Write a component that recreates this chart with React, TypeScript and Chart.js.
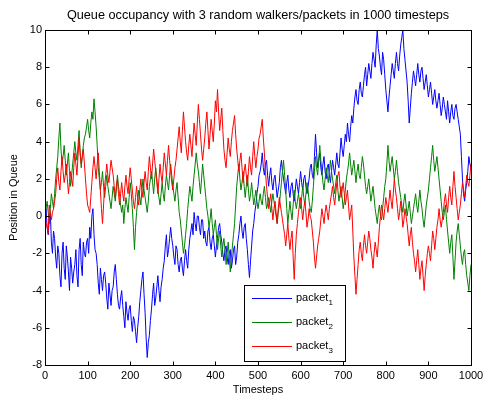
import React, { useEffect, useRef } from "react";
import { Chart, registerables } from "chart.js";
Chart.register(...registerables);

const TITLE = "Queue occupancy with 3 random walkers/packets in 1000 timesteps";
const X_LABEL = "Timesteps";
const Y_LABEL = "Position in Queue";
const X_TICKS = [0, 100, 200, 300, 400, 500, 600, 700, 800, 900, 1000];
const Y_TICKS = [-8, -6, -4, -2, 0, 2, 4, 6, 8, 10];
const SERIES_NAMES = ["packet", "packet", "packet"];
const SERIES_SUBS = ["1", "2", "3"];
const SERIES_COLORS = ["#0000ff", "#008000", "#ff0000"];
const STEP = 2.5; // timesteps between sampled points

const PACKET1 = [
  0, 0.4, -0.6, -1.0, -0.2, 0.2, -1.4, -2.0, -0.8, -1.2, -2.2, -2.8, -1.6, -2.0, -3.2, -3.8, -2.0, -1.4, -2.8, -3.4,
  -1.6, -2.2, -3.0, -4.0, -2.2, -2.8, -3.6, -3.0, -2.6, -1.8, -3.2, -3.8, -1.8, -1.2, -2.6, -3.2, -1.4, -2.0, -2.2, -1.4,
  -1.2, -2.0, -0.6, -1.2, 0.0, 0.4, -1.0, -1.8, -2.0, -2.6, -3.6, -4.2, -2.8, -3.4, -4.0, -3.2, -3.0, -3.6, -4.4, -5.0,
  -3.6, -4.2, -4.8, -4.0, -3.8, -3.0, -2.6, -3.4, -4.2, -4.8, -5.0, -4.4, -4.0, -4.8, -5.4, -6.0, -4.6, -5.2, -5.6, -5.0,
  -4.8, -5.6, -6.2, -5.4, -5.6, -6.2, -6.8, -6.0, -5.4, -4.6, -4.0, -3.4, -3.0, -4.2, -5.2, -6.6, -7.6, -6.8, -6.4, -5.6,
  -5.0, -4.2, -3.6, -4.8, -4.4, -3.8, -3.2, -4.0, -4.6, -3.8, -3.4, -2.8, -2.4, -1.6, -1.0, -2.2, -1.8, -1.2, -0.6, -1.2,
  -1.6, -2.2, -2.6, -1.6, -1.8, -2.6, -3.0, -2.4, -2.2, -2.8, -3.2, -2.4, -1.8, -2.4, -2.8, -1.8, -1.2, -0.8, -0.4, -1.0,
  0.2, -0.4, -0.8, 0.0, 0.0, -0.6, -1.0, -0.2, -0.2, -1.2, -0.8, -1.4, -1.6, -0.8, -0.6, -1.4, -1.8, -1.2, -1.0, -1.6,
  -2.2, -1.6, -1.2, -0.6, -0.4, -1.0, -1.4, -2.0, -2.4, -1.8, -1.6, -2.2, -2.6, -2.0, -1.8, -2.8, -2.4, -1.8, -1.6, -2.6,
  -2.2, -1.4, -1.0, -0.4, 0.0, -0.8, -1.2, -0.6, -0.4, -1.2, -1.8, -2.6, -3.3, -2.4, -1.6, -0.8, -0.4, 0.2, 0.6, 1.2,
  1.6, 2.2, 2.4, 2.8, 3.4, 2.6, 2.2, 2.8, 3.0, 2.2, 1.6, 2.2, 2.6, 1.8, 1.4, 2.0, 2.2, 1.6, 1.0, 1.4,
  1.8, 2.6, 3.0, 2.4, 2.0, 1.6, 1.2, 1.8, 2.2, 1.4, 1.0, 1.6, 1.8, 1.2, 0.8, 1.4, 2.0, 1.6, 1.2, 1.8,
  2.4, 1.8, 1.4, 2.0, 2.2, 1.6, 1.2, 1.6, 2.0, 2.6, 2.8, 2.2, 2.0, 3.2, 4.4, 3.4, 2.6, 3.0, 3.4, 2.6,
  2.2, 2.8, 3.2, 2.4, 2.0, 2.6, 2.8, 2.2, 1.8, 2.4, 3.0, 2.6, 2.2, 2.8, 3.4, 2.8, 2.6, 3.4, 4.2, 3.6,
  3.2, 3.8, 4.4, 4.0, 5.0, 4.4, 4.0, 4.8, 5.4, 5.0, 5.8, 6.4, 6.8, 6.2, 6.0, 6.8, 7.2, 6.6, 6.4, 7.0,
  7.6, 8.0, 7.0, 7.6, 8.2, 7.8, 7.4, 8.2, 8.8, 8.4, 8.0, 9.2, 10.0, 9.0, 8.6, 8.0, 7.6, 8.8, 8.4, 7.6,
  6.8, 6.2, 5.6, 6.4, 7.0, 7.6, 8.2, 7.8, 7.4, 8.2, 8.8, 8.2, 7.8, 8.6, 9.2, 9.6, 10.0, 9.0, 8.4, 7.8,
  7.2, 6.2, 5.0, 5.8, 6.6, 7.2, 7.8, 7.4, 7.0, 7.6, 8.2, 7.6, 7.2, 7.8, 8.0, 7.4, 6.8, 7.2, 7.6, 7.0,
  6.4, 6.8, 7.2, 6.6, 6.0, 6.4, 6.8, 6.2, 5.8, 6.2, 6.6, 6.0, 5.4, 5.8, 6.4, 6.0, 5.6, 5.2, 6.2, 5.6,
  5.0, 5.6, 6.0, 5.4, 5.2, 5.8, 6.0, 5.6, 5.2, 4.8, 4.4, 3.2, 2.0, 1.2, 0.8, 1.4, 1.8, 2.4, 3.2, 2.8,
  2.6,
];

const PACKET2 = [
  0.0, 0.4, 0.8, 0.2, -0.4, 0.4, 1.2, 0.8, 0.4, 1.2, 2.0, 2.6, 3.2, 4.2, 5.0, 3.6, 2.8, 3.2, 3.8, 3.0,
  2.2, 2.8, 3.4, 2.4, 1.6, 2.2, 2.8, 3.4, 4.0, 3.4, 3.0, 3.8, 4.6, 3.4, 2.6, 3.2, 3.8, 4.2, 4.4, 4.8,
  5.2, 4.6, 4.2, 5.0, 5.6, 5.2, 6.3, 5.6, 4.8, 3.8, 2.6, 2.0, 1.4, 1.8, 2.4, 1.6, 1.0, 1.6, 2.2, 1.6,
  1.2, 0.8, 0.4, 1.0, 1.6, 1.2, 0.8, 1.4, 2.2, 1.6, 1.2, 0.6, 0.2, 0.6, -0.4, 0.4, 1.0, 0.6, 0.2, 1.0,
  1.8, 1.2, 0.4, -0.6, -1.8, -0.6, 0.2, 0.8, 1.4, 1.0, 0.6, 1.4, 2.0, 1.4, 1.0, 0.6, 0.2, 0.8, 1.6, 2.0,
  2.4, 1.8, 1.2, 2.0, 2.6, 2.0, 1.4, 1.0, 0.6, 1.2, 1.8, 1.2, 0.8, 1.6, 2.2, 1.8, 1.4, 2.2, 2.8, 2.2,
  1.6, 1.2, 0.8, 1.4, 1.8, 1.0, 0.2, -0.2, -0.8, -1.4, -2.0, -1.6, -1.0, -0.4, 0.4, 1.0, 1.6, 1.2, 0.8, 1.6,
  2.2, 2.8, 3.4, 2.8, 2.4, 1.8, 1.2, 2.0, 2.8, 2.2, 1.6, 1.0, 0.4, 0.0, -0.6, -0.2, 0.4, -0.4, -1.0, -0.6,
  -0.2, -1.0, -1.8, -1.2, -0.8, -1.6, -2.2, -1.6, -1.2, -1.8, -2.6, -2.0, -1.4, -2.2, -3.0, -2.2, -1.6, -1.0, -0.4, 0.6,
  1.6, 2.2, 2.8, 2.0, 1.4, 1.8, 2.4, 1.6, 1.0, 1.6, 2.2, 1.4, 0.8, 1.2, 1.8, 1.2, 0.6, 1.0, 1.4, 0.8,
  0.4, 0.8, 1.2, 0.8, 0.6, 1.2, 1.6, 1.0, 0.4, 0.6, 1.0, 0.6, 0.2, 0.8, 1.2, 0.8, 0.4, 0.0, -0.4, 0.2,
  0.6, 1.2, 1.8, 2.4, 3.0, 2.2, 1.4, 0.4, -0.4, 0.2, 0.8, 0.2, -0.2, 0.6, 1.4, 0.8, 0.4, 0.8, 1.2, 0.8,
  0.4, 1.0, 1.6, 1.0, 0.6, 1.2, 1.8, 1.4, 0.8, 0.4, 0.2, 0.8, 1.6, 2.4, 3.2, 2.6, 2.2, 3.0, 3.8, 3.0,
  2.4, 1.8, 1.4, 2.0, 2.6, 2.2, 1.8, 2.4, 3.0, 2.4, 2.0, 1.6, 1.2, 1.8, 2.2, 1.4, 0.8, 1.2, 1.6, 1.0,
  0.4, 0.8, 1.4, 2.0, 2.4, 2.8, 3.4, 2.8, 2.2, 2.6, 3.0, 2.4, 1.8, 2.4, 2.8, 2.2, 2.0, 2.6, 3.2, 2.8,
  2.2, 1.6, 1.2, 1.6, 2.0, 1.4, 0.8, 1.2, 1.6, 1.0, 0.4, 0.0, -0.4, 0.2, 0.6, 0.0, -0.2, 0.4, 1.0, 1.6,
  2.0, 2.8, 3.8, 3.0, 2.4, 2.8, 3.2, 2.6, 2.0, 2.4, 3.0, 2.4, 1.8, 1.4, 1.0, 0.6, 0.2, 0.8, 1.2, 0.6,
  0.0, 0.4, 0.8, 0.2, -0.4, 0.0, 0.4, 0.8, 1.2, 0.6, 0.2, 0.8, 1.4, 0.8, 0.4, -0.2, -0.6, 0.0, 0.6, 1.0,
  1.4, 2.0, 2.6, 3.2, 3.8, 3.0, 2.4, 2.8, 3.2, 2.6, 2.0, 1.4, 0.8, 0.2, -0.2, 0.2, 0.6, -0.2, -0.8, -1.4,
  -2.0, -1.4, -1.0, -2.2, -3.4, -2.4, -1.4, -0.8, -0.4, -1.0, -1.6, -2.2, -2.6, -2.0, -1.8, -2.6, -3.2, -3.6, -4.0, -3.2,
  -2.6,
];

const PACKET3 = [
  0.0, -0.4, -0.6, -0.9, 0.6, 0.2, -0.2, 0.2, 0.4, 0.8, 1.2, 2.0, 2.6, 1.8, 1.4, 2.4, 3.2, 2.4, 1.8, 2.2,
  2.8, 2.0, 1.2, 1.8, 2.4, 2.0, 1.6, 2.6, 3.4, 2.8, 2.2, 3.2, 4.2, 3.4, 2.8, 3.2, 3.6, 2.8, 2.0, 1.2,
  0.6, 0.4, 0.2, 1.0, 1.8, 2.6, 3.2, 2.6, 2.0, 2.8, 3.4, 2.4, 1.4, 0.4, -0.4, 0.6, 1.6, 2.2, 2.8, 2.2,
  1.8, 2.4, 3.0, 2.6, 2.2, 1.6, 1.0, 1.6, 2.0, 1.2, 0.6, 1.2, 1.8, 1.2, 0.8, 1.6, 2.2, 1.6, 1.2, 2.0,
  2.6, 2.0, 1.4, 0.8, 0.4, 1.0, 1.6, 1.0, 0.6, 1.4, 2.0, 1.4, 1.0, 1.8, 2.4, 1.8, 1.4, 2.4, 3.2, 2.6,
  2.0, 2.8, 3.6, 3.0, 2.4, 1.8, 1.2, 2.0, 2.8, 2.2, 1.8, 2.6, 3.4, 2.8, 2.2, 3.0, 3.8, 3.0, 2.4, 1.8,
  1.4, 2.0, 2.6, 3.0, 3.6, 4.2, 4.8, 4.0, 3.4, 4.6, 5.6, 4.8, 4.0, 3.4, 3.0, 3.8, 4.4, 3.8, 3.2, 4.2,
  5.0, 4.4, 3.8, 5.0, 6.0, 5.2, 4.4, 3.6, 3.0, 3.6, 4.2, 5.0, 5.6, 4.6, 3.6, 4.4, 5.2, 4.6, 4.0, 5.0,
  6.2, 5.6, 6.8, 5.6, 4.6, 5.2, 5.8, 4.6, 3.6, 3.0, 2.6, 3.4, 4.2, 3.6, 3.2, 4.0, 4.6, 5.0, 5.4, 4.4,
  3.6, 3.0, 2.4, 3.0, 3.4, 2.6, 1.8, 2.4, 2.8, 2.2, 1.6, 2.4, 3.2, 2.6, 2.2, 3.2, 4.0, 3.2, 2.6, 3.2,
  3.6, 4.2, 4.4, 4.8, 5.2, 4.2, 3.4, 2.4, 1.6, 1.0, 0.4, 0.8, 1.2, 0.4, -0.2, 0.4, 0.8, 0.2, -0.4, 0.4,
  1.0, 0.6, 0.2, -0.2, -0.6, -1.0, -1.6, -1.0, -0.4, -1.2, -1.8, -1.2, -0.8, -2.2, -3.4, -2.0, -1.0, -0.4, 0.2, 0.6,
  1.0, 0.4, -0.2, 0.4, 0.8, 0.2, -0.6, -0.2, 0.4, 0.0, -0.2, -0.8, -1.4, -2.2, -2.8, -2.2, -1.6, -1.2, -0.8, -0.2,
  0.4, 0.0, -0.4, 0.2, 0.6, 0.2, -0.2, 0.4, 0.8, 1.2, 1.6, 1.0, 0.6, 1.2, 1.8, 2.2, 2.4, 1.6, 1.0, 1.4,
  1.8, 1.2, 0.6, 1.0, 1.4, 0.6, -0.2, 0.2, 0.6, -0.8, -2.2, -3.2, -4.2, -3.4, -2.6, -1.8, -1.4, -2.0, -2.4, -1.6,
  -1.0, -1.6, -2.0, -1.4, -0.8, -1.2, -1.8, -2.2, -2.8, -2.0, -1.4, -1.8, -2.2, -1.4, -0.6, 0.0, 0.6, 0.2, -0.2, 0.4,
  1.0, 0.6, 0.2, 0.8, 1.4, 0.8, 0.4, 1.2, 2.0, 1.4, 1.0, 0.4, -0.2, 0.2, 0.8, 0.2, -0.6, -0.2, 0.4, 0.0,
  -0.4, -1.0, -1.6, -1.0, -0.6, -1.4, -2.0, -2.4, -3.0, -2.4, -1.8, -2.6, -3.4, -2.8, -2.4, -3.2, -4.0, -3.2, -2.6, -2.0,
  -1.6, -2.0, -2.4, -1.6, -0.8, -1.2, -1.8, -1.2, -0.6, -0.2, 0.4, -0.2, -0.6, -0.2, 0.2, 0.8, 1.2, 0.6, 0.2, 1.0,
  1.6, 1.0, 0.6, 1.6, 2.4, 1.6, 1.0, 0.4, -0.2, 0.2, 0.6, 1.2, 1.8, 1.4, 1.0, 1.6, 2.2, 1.8, 1.6, 2.2,
  2.8,
];

const SERIES = [PACKET1, PACKET2, PACKET3];
const FONT = '"Liberation Sans", Arial, Helvetica, sans-serif';

const decorPlugin = {
  id: "matlabDecor",
  afterDraw(chart: any) {
    const { ctx, chartArea: a, scales } = chart;
    const xs = scales.x;
    const ys = scales.y;
    ctx.save();
    ctx.strokeStyle = "#000";
    ctx.lineWidth = 1;
    const L = Math.round(a.left) + 0.5;
    const R = Math.round(a.right) + 0.5;
    const T = Math.round(a.top) + 0.5;
    const B = Math.round(a.bottom) + 0.5;
    ctx.strokeRect(L, T, R - L, B - T);
    const tl = 4;
    ctx.beginPath();
    X_TICKS.forEach((v) => {
      const px = Math.round(xs.getPixelForValue(v)) + 0.5;
      ctx.moveTo(px, B);
      ctx.lineTo(px, B - tl);
      ctx.moveTo(px, T);
      ctx.lineTo(px, T + tl);
    });
    Y_TICKS.forEach((v) => {
      const py = Math.round(ys.getPixelForValue(v)) + 0.5;
      ctx.moveTo(L, py);
      ctx.lineTo(L + tl, py);
      ctx.moveTo(R, py);
      ctx.lineTo(R - tl, py);
    });
    ctx.stroke();

    ctx.fillStyle = "#000";
    ctx.textAlign = "center";
    ctx.textBaseline = "middle";
    ctx.font = `12.7px ${FONT}`;
    ctx.fillText(TITLE, (a.left + a.right) / 2, 15);
    ctx.font = `11px ${FONT}`;
    ctx.fillText(X_LABEL, (a.left + a.right) / 2, 390);
    ctx.save();
    ctx.translate(14, (a.top + a.bottom) / 2);
    ctx.rotate(-Math.PI / 2);
    ctx.fillText(Y_LABEL, 0, 0);
    ctx.restore();

    // legend
    const lx = 244.5, ly = 285.5, lw = 101, lh = 76;
    ctx.fillStyle = "#fff";
    ctx.fillRect(lx, ly, lw, lh);
    ctx.strokeStyle = "#000";
    ctx.strokeRect(lx, ly, lw, lh);
    SERIES_NAMES.forEach((name, i) => {
      const y = 298.5 + i * 24;
      ctx.strokeStyle = SERIES_COLORS[i];
      ctx.beginPath();
      ctx.moveTo(252, y);
      ctx.lineTo(292, y);
      ctx.stroke();
      ctx.fillStyle = "#000";
      ctx.textAlign = "left";
      ctx.textBaseline = "middle";
      ctx.font = `11px ${FONT}`;
      ctx.fillText(name, 296, y - 1);
      const w = ctx.measureText(name).width;
      ctx.font = `8px ${FONT}`;
      ctx.fillText(SERIES_SUBS[i], 296 + w, y + 4);
    });
    ctx.restore();
  },
};

export default function App() {
  const ref = useRef<HTMLCanvasElement | null>(null);
  useEffect(() => {
    if (!ref.current) return;
    const datasets = SERIES.map((vals, i) => ({
      label: SERIES_NAMES[i] + SERIES_SUBS[i],
      data: vals.map((v, j) => ({ x: j * STEP, y: v })),
      borderColor: SERIES_COLORS[i],
      backgroundColor: SERIES_COLORS[i],
      borderWidth: 1,
      pointRadius: 0,
      tension: 0,
      fill: false,
      order: 3 - i,
    }));
    const chart = new Chart(ref.current, {
      type: "line",
      data: { datasets },
      options: {
        animation: false,
        responsive: true,
        maintainAspectRatio: false,
        layout: { padding: { top: 30, right: 13, left: 0, bottom: 0 } },
        plugins: { legend: { display: false }, tooltip: { enabled: false }, title: { display: false } },
        scales: {
          x: {
            type: "linear",
            min: 0,
            max: 1000,
            grid: { display: false, drawTicks: false },
            border: { display: false },
            ticks: {
              stepSize: 100,
              autoSkip: false,
              maxRotation: 0,
              padding: 4,
              color: "#000",
              font: { family: FONT, size: 11 },
              callback: (v: any) => String(v),
            },
            afterFit: (s: any) => {
              s.height = 36;
              s.paddingLeft = 0;
              s.paddingRight = 0;
            },
          },
          y: {
            type: "linear",
            min: -8,
            max: 10,
            grid: { display: false, drawTicks: false },
            border: { display: false },
            ticks: {
              stepSize: 2,
              autoSkip: false,
              padding: 3,
              color: "#000",
              font: { family: FONT, size: 11 },
              callback: (v: any) => String(v),
            },
            afterFit: (s: any) => {
              s.width = 45;
              s.paddingTop = 0;
              s.paddingBottom = 0;
            },
          },
        },
      },
      plugins: [decorPlugin],
    });
    return () => chart.destroy();
  }, []);
  return (
    <div style={{ position: "fixed", left: 0, top: 0, width: 484, height: 401, background: "#fff" }}>
      <canvas ref={ref} />
    </div>
  );
}
